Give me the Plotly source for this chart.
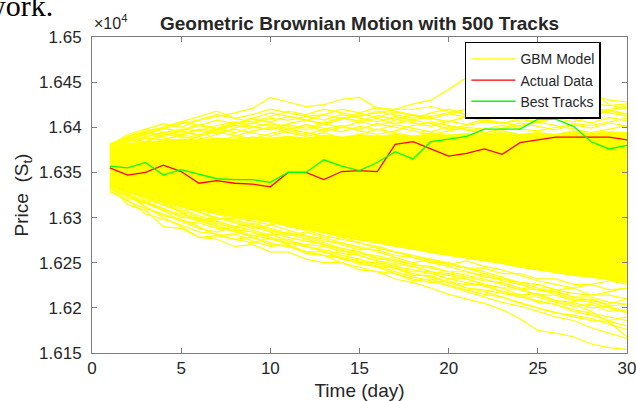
import plotly.graph_objects as go

days = list(range(1, 31))

# dense core of the 500 GBM tracks (lower / upper edge)
core_lo = [16334, 16328, 16322, 16317, 16312, 16308, 16304, 16301, 16298, 16295,
           16291, 16287, 16283, 16279, 16275, 16272, 16268, 16265, 16261, 16258,
           16255, 16252, 16249, 16245, 16242, 16239, 16236, 16234, 16231, 16228]
core_hi = [16378, 16381, 16384, 16385, 16387, 16386, 16388, 16387, 16389, 16388,
           16390, 16388, 16391, 16389, 16392, 16390, 16392, 16390, 16393, 16391,
           16393, 16391, 16394, 16392, 16394, 16392, 16395, 16393, 16395, 16394]

# fringe tracks of the GBM model
upper_tracks = [
    [16376,16384,16390,16394,16398,16396,16402,16406,16404,16410,16408,16412,16414,16410,16413,16416,16420,16426,16430,16442,16455,16462,16466,16470,16468,16466,16460,16440,16425,16420],
    [16374,16386,16392,16398,16404,16408,16412,16416,16421,16433,16428,16423,16425,16431,16433,16421,16420,16420,16423,16418,16414,16416,16420,16418,16422,16425,16428,16426,16424,16426],
    [16378,16390,16396,16400,16406,16412,16418,16410,16414,16420,16416,16412,16408,16414,16410,16406,16412,16408,16412,16416,16420,16424,16430,16436,16440,16438,16442,16436,16430,16428],
    [16372,16380,16388,16386,16392,16398,16396,16402,16400,16398,16404,16408,16404,16400,16406,16410,16404,16408,16404,16398,16402,16406,16404,16408,16412,16410,16414,16418,16420,16422],
    [16380,16388,16384,16390,16396,16392,16398,16394,16400,16404,16398,16402,16396,16400,16398,16404,16400,16396,16392,16396,16400,16398,16402,16398,16396,16400,16404,16402,16406,16410],
    [16370,16378,16384,16392,16390,16386,16392,16398,16394,16390,16396,16392,16398,16402,16396,16392,16396,16402,16406,16402,16398,16394,16398,16402,16406,16402,16398,16394,16398,16402],
    [16376,16382,16380,16386,16392,16388,16384,16390,16396,16400,16394,16390,16394,16388,16392,16398,16394,16390,16386,16392,16388,16392,16396,16392,16388,16392,16396,16392,16388,16394],
    [16379,16386,16392,16388,16384,16390,16395,16391,16387,16393,16398,16394,16390,16386,16390,16386,16392,16388,16394,16390,16386,16382,16386,16390,16386,16380,16384,16388,16384,16380],
    [16380,16392,16398,16404,16400,16408,16414,16410,16406,16412,16418,16414,16420,16416,16412,16418,16414,16410,16416,16420,16414,16418,16422,16416,16412,16418,16414,16420,16416,16412],
    [16377,16385,16394,16400,16406,16402,16398,16404,16410,16406,16412,16408,16404,16410,16406,16402,16408,16414,16410,16406,16412,16408,16414,16420,16416,16410,16406,16412,16418,16414],
    [16381,16389,16395,16391,16397,16403,16399,16405,16401,16397,16403,16399,16405,16411,16407,16413,16409,16405,16401,16407,16403,16409,16405,16401,16407,16413,16409,16405,16411,16407],
    [16375,16383,16389,16395,16391,16397,16393,16399,16405,16401,16397,16403,16399,16395,16401,16397,16403,16399,16395,16401,16397,16393,16399,16405,16401,16397,16403,16399,16405,16401],
    [16379,16387,16393,16399,16395,16391,16397,16403,16409,16405,16401,16397,16403,16409,16415,16411,16417,16413,16409,16415,16411,16407,16413,16409,16405,16411,16417,16413,16419,16415],
    [16382,16388,16394,16390,16396,16402,16408,16404,16410,16416,16412,16408,16414,16420,16416,16422,16418,16414,16410,16406,16412,16408,16404,16410,16406,16412,16418,16422,16418,16424],
]
lower_tracks = [
    [16340,16332,16322,16318,16305,16298,16290,16285,16278,16272,16268,16262,16258,16250,16245,16240,16232,16228,16222,16215,16210,16205,16198,16188,16175,16172,16168,16160,16156,16154],
    [16338,16328,16312,16300,16290,16278,16280,16276,16272,16278,16270,16262,16258,16255,16250,16245,16238,16230,16232,16225,16220,16215,16212,16205,16200,16195,16190,16186,16185,16180],
    [16336,16326,16318,16308,16296,16288,16284,16290,16286,16280,16284,16278,16272,16266,16262,16256,16250,16246,16240,16236,16232,16226,16222,16214,16206,16204,16196,16192,16186,16190],
    [16342,16332,16326,16316,16310,16302,16296,16290,16294,16288,16282,16276,16270,16266,16260,16258,16252,16248,16244,16240,16236,16232,16226,16220,16214,16208,16204,16196,16184,16168],
    [16338,16330,16320,16314,16306,16296,16300,16294,16288,16292,16286,16280,16276,16270,16264,16268,16262,16256,16250,16246,16240,16236,16230,16226,16220,16216,16210,16206,16200,16196],
    [16340,16334,16326,16320,16314,16306,16298,16300,16296,16292,16296,16290,16284,16278,16272,16266,16262,16258,16254,16250,16244,16238,16232,16228,16222,16218,16212,16208,16204,16210],
    [16344,16336,16330,16322,16316,16310,16304,16298,16292,16286,16280,16284,16278,16272,16268,16262,16256,16250,16254,16248,16244,16240,16234,16228,16226,16220,16216,16214,16218,16222],
    [16346,16338,16332,16326,16320,16316,16310,16304,16300,16296,16290,16286,16280,16276,16272,16268,16262,16258,16252,16248,16252,16246,16242,16236,16230,16226,16222,16226,16230,16226],
    [16334,16324,16316,16310,16302,16296,16290,16284,16280,16276,16272,16268,16264,16258,16254,16248,16244,16238,16234,16228,16222,16218,16212,16206,16200,16194,16192,16188,16182,16176],
    [16340,16330,16322,16314,16308,16300,16294,16288,16284,16278,16272,16268,16262,16256,16252,16246,16240,16234,16230,16224,16218,16212,16206,16202,16196,16190,16186,16178,16172,16166],
    [16342,16334,16328,16320,16312,16306,16300,16296,16290,16284,16278,16274,16270,16264,16258,16252,16246,16242,16238,16232,16228,16224,16218,16212,16208,16204,16198,16194,16190,16186],
    [16332,16322,16316,16308,16304,16298,16296,16290,16292,16286,16282,16280,16274,16272,16266,16264,16258,16256,16250,16250,16244,16244,16238,16238,16232,16232,16226,16226,16220,16222],
    [16330,16318,16310,16304,16296,16294,16288,16286,16280,16282,16274,16270,16268,16262,16262,16254,16254,16248,16246,16240,16240,16234,16232,16228,16226,16220,16222,16214,16214,16210],
    [16328,16320,16304,16298,16292,16284,16282,16276,16278,16270,16268,16262,16262,16254,16250,16250,16244,16240,16240,16232,16232,16226,16222,16222,16214,16214,16208,16210,16202,16204],
    [16336,16314,16308,16290,16288,16278,16276,16268,16270,16262,16262,16254,16250,16250,16242,16240,16238,16232,16228,16230,16222,16220,16216,16212,16212,16206,16202,16204,16196,16198],
    [16333,16324,16312,16302,16298,16290,16280,16282,16274,16268,16270,16260,16258,16256,16248,16246,16244,16236,16236,16228,16226,16226,16218,16214,16216,16208,16206,16200,16202,16194],
    [16337,16326,16318,16310,16300,16300,16292,16286,16284,16276,16276,16268,16264,16260,16258,16252,16248,16246,16240,16238,16234,16230,16228,16222,16220,16218,16212,16212,16206,16204],
]

actual_data = [16355, 16347, 16350, 16358, 16351, 16338, 16341, 16338, 16337, 16334,
               16350, 16350, 16342, 16351, 16352, 16351, 16381, 16384, 16376, 16368,
               16371, 16376, 16370, 16383, 16386, 16389, 16389, 16389, 16389, 16386]
best_tracks = [16357, 16355, 16361, 16347, 16353, 16348, 16343, 16342, 16342, 16339,
               16350, 16350, 16364, 16357, 16352, 16361, 16373, 16365, 16384, 16387,
               16390, 16398, 16398, 16398, 16409, 16409, 16401, 16384, 16376, 16380]

x_ticks = [0, 5, 10, 15, 20, 25, 30]
y_ticks = [16150, 16200, 16250, 16300, 16350, 16400, 16450, 16500]
y_tick_labels = ["1.615", "1.62", "1.625", "1.63", "1.635", "1.64", "1.645", "1.65"]

YEL = "#FFFF00"
fig = go.Figure()

fig.add_trace(go.Scatter(x=days, y=core_lo, mode="lines", line=dict(color=YEL, width=1.2),
                         showlegend=False, hoverinfo="skip"))
fig.add_trace(go.Scatter(x=days, y=core_hi, mode="lines", line=dict(color=YEL, width=1.2),
                         fill="tonexty", fillcolor=YEL, showlegend=False, hoverinfo="skip"))
for i, tr in enumerate(upper_tracks + lower_tracks):
    fig.add_trace(go.Scatter(x=days, y=tr, mode="lines", line=dict(color=YEL, width=1.2),
                             name="GBM Model", showlegend=(i == 0)))

fig.add_trace(go.Scatter(x=days, y=actual_data, mode="lines", line=dict(color="#FF0000", width=1.3),
                         name="Actual Data"))
fig.add_trace(go.Scatter(x=days, y=best_tracks, mode="lines", line=dict(color="#00FF00", width=1.3),
                         name="Best Tracks"))

FONT = "Liberation Sans, Arial, sans-serif"
fig.update_layout(
    width=636, height=401,
    margin=dict(l=92, r=9, t=37, b=48),
    paper_bgcolor="white", plot_bgcolor="white",
    font=dict(family=FONT, size=17, color="#262626"),
    title=dict(text="<b>Geometric Brownian Motion with 500 Tracks</b>",
               x=(92 + 627) / 2 / 636, xanchor="center", y=1 - 23 / 401, yanchor="middle",
               font=dict(family=FONT, size=19, color="#262626")),
    legend=dict(x=0.697, y=0.985, xanchor="left", yanchor="top", traceorder="normal",
                bgcolor="white", bordercolor="#000000", borderwidth=1.5,
                font=dict(family=FONT, size=14, color="#262626"),
                tracegroupgap=0, itemwidth=44),
    showlegend=True,
)
fig.update_xaxes(range=[0, 30], tickvals=x_ticks, ticks="inside", ticklen=5,
                 tickcolor="#7f7f7f", showline=True, linecolor="#7f7f7f", linewidth=1,
                 mirror="ticks", showgrid=False, zeroline=False, automargin=False,
                 tickfont=dict(size=17), ticklabeloverflow="allow",
                 title=dict(text="Time (day)", font=dict(size=19)))
fig.update_yaxes(range=[16150, 16500], tickvals=y_ticks, ticktext=y_tick_labels,
                 ticks="inside", ticklen=5, tickcolor="#7f7f7f", showline=True,
                 linecolor="#7f7f7f", linewidth=1, mirror="ticks", showgrid=False,
                 zeroline=False, automargin=False, tickfont=dict(size=17),
                 ticklabelstandoff=6, ticklabeloverflow="allow",
                 title=dict(text="Price  (S<sub>t</sub>)", standoff=5, font=dict(size=19)))

fig.add_annotation(text="×10<sup>4</sup>", xref="paper", yref="paper", x=0, y=1,
                   xanchor="left", yanchor="bottom", yshift=3, showarrow=False,
                   font=dict(family=FONT, size=16, color="#262626"))
fig.add_annotation(text="work.", xref="paper", yref="paper", x=-92 / 535, y=1 + 37 / 316,
                   xanchor="left", yanchor="bottom", xshift=-18, yshift=-24, showarrow=False,
                   font=dict(family="Liberation Serif, serif", size=30, color="#000000"))

fig.write_html("out.html", config={"displayModeBar": False},
               post_script="document.body.style.margin='0';")
